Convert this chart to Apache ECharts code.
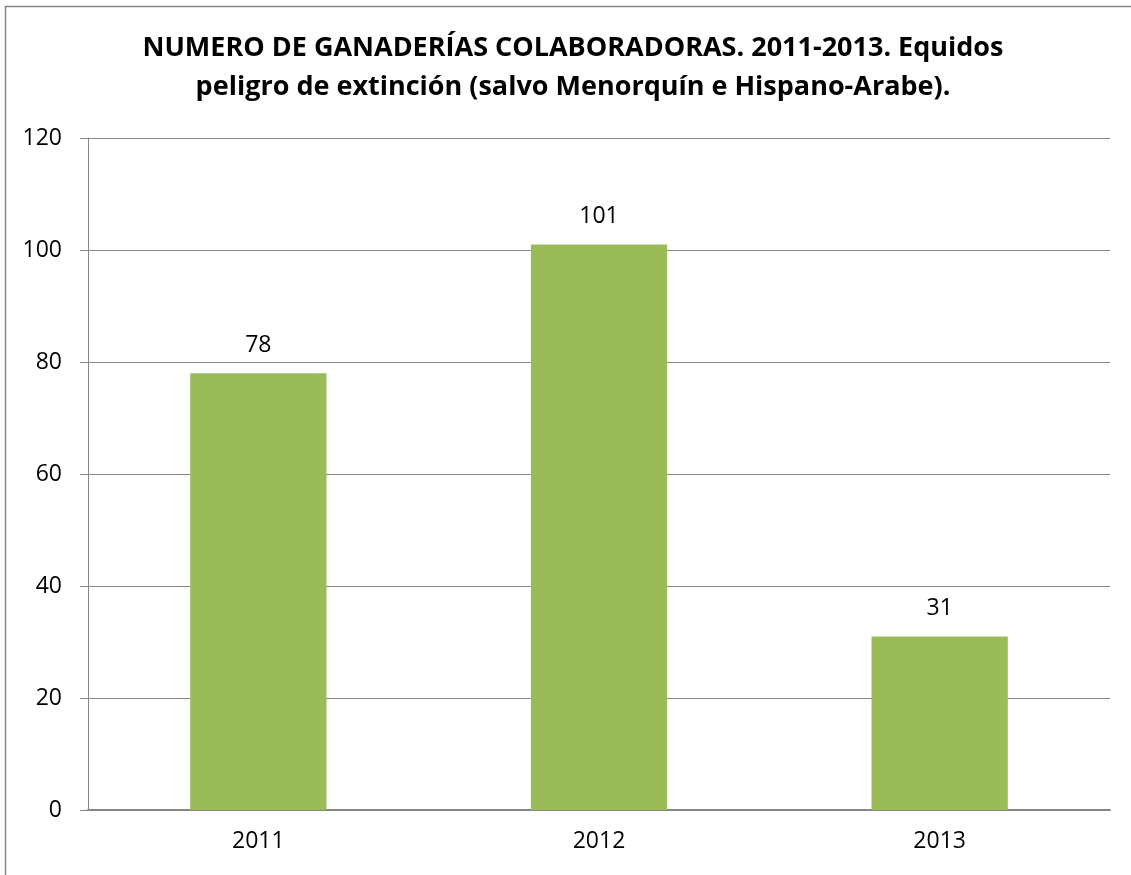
<!DOCTYPE html>
<html>
<head>
<meta charset="utf-8">
<script src="https://cdn.jsdelivr.net/npm/echarts@6/dist/echarts.min.js"></script>
<style>
html,body{margin:0;padding:0;background:#fff;}
#c{width:1131px;height:875px;}
</style>
</head>
<body>
<div id="c"></div>
<script>
const titleLines = ["NUMERO DE GANADERÍAS COLABORADORAS. 2011-2013. Equidos", "peligro de extinción (salvo Menorquín e Hispano-Arabe)."];
const categories = ["2011", "2012", "2013"];
const values = [78, 101, 31];
const yTicks = [0, 20, 40, 60, 80, 100, 120];

const FONT = "'Open Sans', 'Liberation Sans', sans-serif";
const chart = echarts.init(document.getElementById('c'), null, {renderer: 'canvas'});
chart.setOption({
  animation: false,
  backgroundColor: '#fff',
  title: {
    text: titleLines.join('\n'),
    left: 568, top: 24, textAlign: 'center',
    textStyle: {fontFamily: FONT, fontWeight: 'bold', fontSize: 27, color: '#000', lineHeight: 39}
  },
  graphic: [{
    type: 'rect', shape: {x: 5.5, y: 6.5, width: 1300, height: 1000},
    style: {fill: null, stroke: '#868686', lineWidth: 1.5}, silent: true, z: 100
  }],
  grid: {left: 88, right: 21, top: 138, bottom: 65},
  xAxis: {
    type: 'category', data: categories,
    axisLine: {lineStyle: {color: '#868686', width: 2}},
    axisTick: {show: false},
    axisLabel: {fontFamily: FONT, fontSize: 23, color: '#000', margin: 20}
  },
  yAxis: {
    type: 'value', min: yTicks[0], max: yTicks[yTicks.length - 1], interval: 20,
    axisLine: {show: true, lineStyle: {color: '#868686', width: 1}},
    axisTick: {show: true, length: 8, lineStyle: {color: '#868686'}},
    splitLine: {lineStyle: {color: '#868686', width: 1}},
    axisLabel: {fontFamily: FONT, fontSize: 23, color: '#000', margin: 26}
  },
  series: [{
    type: 'bar', data: values, barWidth: '40%',
    itemStyle: {color: '#9BBB59'},
    label: {show: true, position: 'top', distance: 16, fontFamily: FONT, fontSize: 23, color: '#000'}
  }]
});
</script>
</body>
</html>
